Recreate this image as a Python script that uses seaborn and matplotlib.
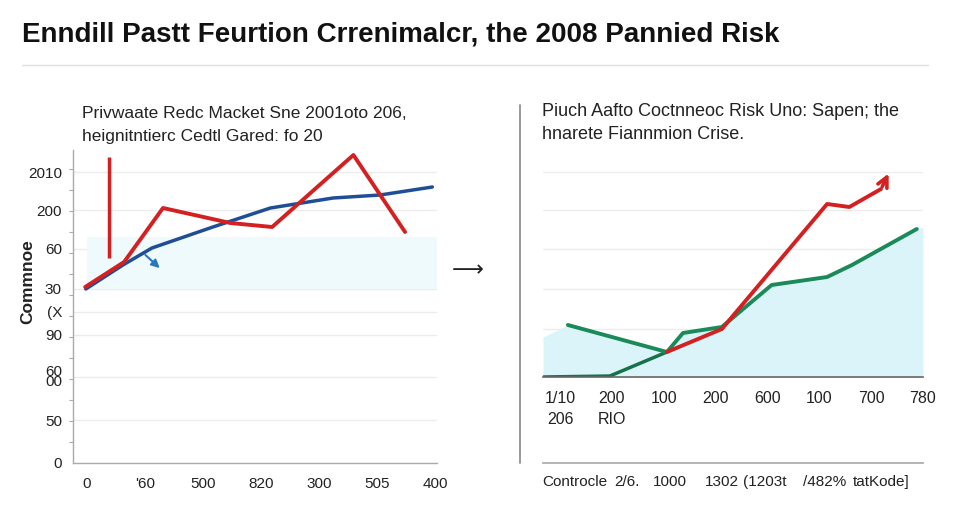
import matplotlib
matplotlib.use("Agg")
import matplotlib.pyplot as plt
from matplotlib.ticker import MultipleLocator
import seaborn as sns

# ---- data ----
title = "Enndill Pastt Feurtion Crrenimalcr, the 2008 Pannied Risk"
left_title = ["Privwaate Redc Macket Sne 2001oto 206,", "heignitntierc Cedtl Gared: fo 20"]
right_title = ["Piuch Aafto Coctnneoc Risk Uno: Sapen; the", "hnarete Fiannmion Crise."]
left_ylabel = "Commnoe"
caption_words = ["Controcle", "2/6.", "1000", "1302", "(1203t", "/482%", "tatKode]"]

left_xticks = [0, 1, 2, 3, 4, 5, 6]
left_xlabels = ["0", "'60", "500", "820", "300", "505", "400"]
left_yticks = [0, 43, 86, 128, 151, 174, 214, 253, 291]
left_ylabels = ["0", "50", "60\n00", "90", "(X", "30", "60", "200", "2010"]

blue_x = [-0.02, 0.62, 1.12, 2.17, 3.16, 4.24, 5.05, 5.95]
blue_y = [174, 198, 215, 236, 255, 265, 268, 276]
red_x = [-0.03, 0.64, 1.31, 2.47, 3.19, 4.59, 5.48]
red_y = [176, 201, 255, 240, 236, 308, 231]
spike_x = [0.38, 0.38]
spike_y = [205, 306]
band_x = [0, 6.03]
band_lo = [174, 174]
band_hi = [226, 226]
blue_arrow = [(0.97, 210), (1.29, 193)]

right_xticks = [0, 1, 2, 3, 4, 5, 6, 7]
right_xlabels = ["1/10\n206", "200\nRIO", "100", "200", "600", "100", "700", "780"]
right_grid = [48, 88, 128, 167, 205]
green_a_x = [0.15, 2.06, 2.37, 3.12, 4.08, 5.15, 5.63, 6.88]
green_a_y = [52, 25, 44, 50, 92, 100, 112, 148]
green_b_x = [-0.33, 0.96, 2.06]
green_b_y = [0, 1, 25]
red_r_x = [2.06, 3.12, 5.15, 5.58, 6.19]
red_r_y = [25, 48, 173, 170, 188]
red_arrow = [(6.19, 188), (6.36, 206)]
fill_x = [-0.33, 0.15, 2.06, 2.37, 3.12, 4.08, 5.15, 5.63, 6.88, 7.0]
fill_y = [40, 52, 25, 44, 50, 92, 100, 112, 148, 150]
caption_ticks = [1.04, 2.06, 3.12, 4.08, 5.06, 6.0]

RED = "#d42020"
BLUE = "#1f4e96"
GREEN = "#1b8a5a"

sns.set_theme(style="white")
plt.rcParams["font.family"] = ["Liberation Sans", "DejaVu Sans"]

fig = plt.figure(figsize=(9.6, 5.28), dpi=100)
W, H = 960, 528

def box(x0, y0, x1, y1):
    return [x0 / W, 1 - y1 / H, (x1 - x0) / W, (y1 - y0) / H]

# title + rule
fig.text(22 / W, 1 - 34 / H, title, fontsize=20, fontweight="bold",
         va="center", ha="left", color="#111111")
fig.add_artist(plt.Line2D([22 / W, 928 / W], [1 - 65 / H, 1 - 65 / H], color="#e0e0e0", lw=1))

# ---- left panel ----
ax = fig.add_axes(box(73, 150, 437, 463))
ax.fill_between(band_x, band_lo, band_hi, color="#eefafc", lw=0)
sns.lineplot(x=blue_x, y=blue_y, ax=ax, color=BLUE, lw=2.5, sort=False, estimator=None)
sns.lineplot(x=red_x, y=red_y, ax=ax, color=RED, lw=2.8, sort=False, estimator=None)
ax.plot(spike_x, spike_y, color=RED, lw=2.5, solid_capstyle="butt")
ax.annotate("", xy=blue_arrow[1], xytext=blue_arrow[0],
            arrowprops=dict(arrowstyle="-|>", color="#2a77c0", lw=1.5, mutation_scale=12))
ax.set_xlim(-0.24, 6.03)
ax.set_ylim(0, 313)
ax.set_xticks(left_xticks, left_xlabels)
ax.set_yticks(left_yticks, left_ylabels)
ax.yaxis.set_minor_locator(MultipleLocator(21))
ax.tick_params(axis="both", labelsize=11, colors="#222222", length=4, width=0.8)
ax.tick_params(axis="x", color="#999999", pad=6)
ax.tick_params(axis="y", color="#999999", pad=4)
ax.tick_params(axis="y", which="minor", left=True, length=3, width=0.8, color="#aaaaaa")
for lab in ax.get_yticklabels():
    lab.set_linespacing(0.7)
ax.grid(axis="y", which="major", color="#ececec", lw=1)
for s in ["top", "right"]:
    ax.spines[s].set_visible(False)
for s in ["left", "bottom"]:
    ax.spines[s].set_color("#aaaaaa")
    ax.spines[s].set_linewidth(1)
ax.set_xlabel("")
ax.set_ylabel("")
fig.text(28 / W, 1 - 282 / H, left_ylabel, rotation=90, fontsize=12.5,
         fontweight="bold", va="center", ha="center", color="#222222")
fig.text(82 / W, 1 - 113 / H, left_title[0], fontsize=12.5, va="center", color="#222222")
fig.text(82 / W, 1 - 137 / H, left_title[1], fontsize=12.5, va="center", color="#222222")

# middle arrow and divider
fig.text(468 / W, 1 - 270 / H, "\u27f6", fontsize=16, family="DejaVu Sans",
         ha="center", va="center", color="#222222")
fig.add_artist(plt.Line2D([520 / W, 520 / W], [1 - 105 / H, 1 - 463 / H], color="#888888", lw=1.2))

# ---- right panel ----
ax2 = fig.add_axes(box(543, 160, 923, 377))
ax2.fill_between(fill_x, 0, fill_y, color="#daf4f9", lw=0)
sns.lineplot(x=green_b_x, y=green_b_y, ax=ax2, color="#17724a", lw=2.5, sort=False, estimator=None)
sns.lineplot(x=green_a_x, y=green_a_y, ax=ax2, color=GREEN, lw=2.8, sort=False, estimator=None)
sns.lineplot(x=red_r_x, y=red_r_y, ax=ax2, color=RED, lw=2.8, sort=False, estimator=None)
ax2.annotate("", xy=red_arrow[1], xytext=red_arrow[0],
             arrowprops=dict(arrowstyle="->", color=RED, lw=2.6, mutation_scale=18))
ax2.set_xlim(-0.33, 7.0)
ax2.set_ylim(0, 217)
ax2.set_xticks(right_xticks, right_xlabels)
ax2.set_yticks(right_grid, [""] * len(right_grid))
ax2.tick_params(axis="x", labelsize=11.5, colors="#222222", length=0, pad=10)
ax2.tick_params(axis="y", length=0)
for lab in ax2.get_xticklabels():
    lab.set_linespacing(1.5)
ax2.grid(axis="y", color="#ececec", lw=1)
for s in ["top", "right", "left"]:
    ax2.spines[s].set_visible(False)
ax2.spines["bottom"].set_color("#666666")
ax2.spines["bottom"].set_linewidth(1.2)
ax2.set_xlabel("")
ax2.set_ylabel("")
fig.text(542 / W, 1 - 112 / H, right_title[0], fontsize=13, va="center", color="#222222")
fig.text(542 / W, 1 - 135 / H, right_title[1], fontsize=13, va="center", color="#222222")

# bottom strip under the right panel
ax3 = fig.add_axes(box(543, 462, 923, 463))
ax3.set_xlim(-0.33, 7.0)
ax3.set_ylim(0, 1)
ax3.set_xticks(caption_ticks, [""] * len(caption_ticks))
ax3.set_yticks([])
ax3.tick_params(axis="x", direction="in", length=4, color="#999999")
for s in ["top", "right", "left"]:
    ax3.spines[s].set_visible(False)
ax3.spines["bottom"].set_color("#aaaaaa")
ax3.patch.set_alpha(0)
for word, xp in zip(caption_words, [542, 614, 653, 705, 743, 803, 853]):
    fig.text(xp / W, 1 - 482 / H, word, fontsize=11, va="center", color="#222222")

fig.savefig("out.png", dpi=100)
